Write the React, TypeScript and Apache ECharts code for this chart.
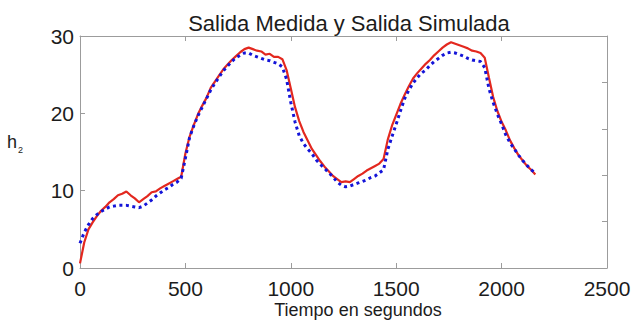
import React, { useEffect, useRef } from "react";
import * as echarts from "echarts";

// Sampling instants (s)
const tiempo: number[] = [
  0, 20, 40, 60, 80, 100, 120, 140, 160, 180, 200, 220, 240, 260, 280, 300, 320, 340, 360, 380,
  400, 420, 440, 460, 480, 500, 520, 540, 560, 580, 600, 620, 640, 660, 680, 700, 720, 740, 760, 780,
  800, 820, 840, 860, 880, 900, 920, 940, 960, 980, 1000, 1020, 1040, 1060, 1080, 1100, 1120, 1140, 1160, 1180,
  1200, 1220, 1240, 1260, 1280, 1300, 1320, 1340, 1360, 1380, 1400, 1420, 1440, 1460, 1480, 1500, 1520, 1540, 1560, 1580,
  1600, 1620, 1640, 1660, 1680, 1700, 1720, 1740, 1760, 1780, 1800, 1820, 1840, 1860, 1880, 1900, 1920, 1940, 1960, 1980,
  2000, 2020, 2040, 2060, 2080, 2100, 2120, 2140, 2160,
];

// Measured output h2
const salidaMedida: number[] = [
  0.6, 3.3, 5.0, 5.9, 6.7, 7.4, 7.9, 8.5, 8.9, 9.4, 9.6, 9.9, 9.4, 9.0, 8.5, 8.9, 9.3, 9.8, 9.9, 10.3,
  10.6, 10.9, 11.2, 11.5, 11.8, 14.8, 17.0, 18.5, 19.9, 21.0, 22.0, 23.3, 24.1, 24.9, 25.7, 26.3, 26.9, 27.4, 27.9, 28.3,
  28.5, 28.3, 28.1, 28.0, 27.6, 27.7, 27.3, 27.3, 27.0, 25.6, 23.2, 20.8, 19.0, 17.6, 16.5, 15.4, 14.6, 13.8, 13.1, 12.5,
  11.9, 11.5, 11.1, 11.2, 11.1, 11.5, 11.9, 12.2, 12.6, 12.9, 13.2, 13.5, 14.1, 16.6, 18.4, 19.8, 21.2, 22.4, 23.5, 24.5,
  25.2, 25.8, 26.4, 26.9, 27.5, 28.0, 28.5, 28.9, 29.2, 29.0, 28.8, 28.6, 28.4, 28.1, 28.0, 27.8, 27.2, 24.6, 22.1, 20.3,
  18.9, 17.8, 16.5, 15.5, 14.6, 13.9, 13.2, 12.7, 12.1,
];

// Simulated output h2
const salidaSimulada: number[] = [
  3.2, 4.6, 5.6, 6.4, 6.9, 7.3, 7.6, 7.9, 8.0, 8.1, 8.1, 8.1, 8.0, 7.9, 7.8, 8.0, 8.4, 8.8, 9.3, 9.7,
  10.1, 10.4, 10.8, 11.1, 11.6, 14.2, 16.9, 18.4, 19.7, 20.8, 21.9, 23.0, 23.9, 24.7, 25.5, 26.1, 26.7, 27.2, 27.5, 27.8,
  27.8, 27.5, 27.3, 27.1, 26.9, 26.8, 26.6, 26.4, 26.0, 24.4, 21.4, 18.9, 17.1, 16.1, 15.4, 14.8, 14.0, 13.4, 12.9, 12.3,
  11.8, 11.1, 10.7, 10.5, 10.6, 10.8, 11.0, 11.2, 11.4, 11.7, 11.9, 12.3, 12.7, 15.3, 17.0, 18.6, 20.3, 21.9, 23.0, 23.9,
  24.6, 25.2, 25.6, 26.2, 26.7, 27.1, 27.5, 27.8, 27.9, 27.8, 27.6, 27.4, 27.1, 26.9, 26.8, 26.7, 25.9, 23.2, 21.4, 19.9,
  18.6, 17.2, 16.2, 15.4, 14.6, 13.9, 13.3, 12.7, 12.3,
];

const FONT = "'Liberation Sans', Arial, Helvetica, sans-serif";
const TEXT = "#1c1c1c";
const FRAME = "#9c9c9c";

export default function App() {
  const ref = useRef<HTMLDivElement>(null);

  useEffect(() => {
    if (!ref.current) return;
    const chart = echarts.init(ref.current, null, { renderer: "svg" });

    const tick = { show: true, inside: true, length: 5, lineStyle: { color: FRAME, width: 1 } };
    const line = { show: true, onZero: false, lineStyle: { color: FRAME, width: 1 } };
    const plain = (v: number) => String(v);

    chart.setOption({
      animation: false,
      backgroundColor: "#ffffff",
      grid: { left: 80, right: 27, top: 36, bottom: 52, containLabel: false },
      xAxis: [
        {
          type: "value",
          position: "bottom",
          min: 0,
          max: 2500,
          interval: 500,
          axisLine: line,
          axisTick: tick,
          splitLine: { show: false },
          axisLabel: { fontSize: 21, color: TEXT, fontFamily: FONT, margin: 10, formatter: plain },
        },
        {
          type: "value",
          position: "top",
          min: 0,
          max: 2500,
          interval: 500,
          axisLine: line,
          axisTick: tick,
          splitLine: { show: false },
          axisLabel: { show: false },
        },
      ],
      yAxis: [
        {
          type: "value",
          position: "left",
          min: 0,
          max: 30,
          interval: 10,
          axisLine: line,
          axisTick: tick,
          splitLine: { show: false },
          axisLabel: { fontSize: 21, color: TEXT, fontFamily: FONT, margin: 6, formatter: plain },
        },
        {
          type: "value",
          position: "right",
          min: 0,
          max: 5,
          interval: 1,
          axisLine: line,
          axisTick: tick,
          splitLine: { show: false },
          axisLabel: { show: false },
        },
      ],
      series: [
        {
          name: "Salida Medida",
          type: "line",
          xAxisIndex: 0,
          yAxisIndex: 0,
          data: tiempo.map((t, i) => [t, salidaMedida[i]]),
          showSymbol: false,
          lineStyle: { color: "#e3281f", width: 2.2 },
          z: 2,
        },
        {
          name: "Salida Simulada",
          type: "line",
          xAxisIndex: 0,
          yAxisIndex: 0,
          data: tiempo.map((t, i) => [t, salidaSimulada[i]]),
          showSymbol: false,
          lineStyle: { color: "#1414d8", width: 3, type: [3, 3.5] },
          z: 3,
        },
      ],
      graphic: [
        {
          type: "text",
          x: 349,
          y: 23,
          style: {
            text: "Salida Medida y Salida Simulada",
            fontSize: 22,
            fontFamily: FONT,
            fill: TEXT,
            align: "center",
            verticalAlign: "middle",
          },
        },
        {
          type: "text",
          x: 358,
          y: 310,
          style: {
            text: "Tiempo en segundos",
            fontSize: 18,
            fontFamily: FONT,
            fill: TEXT,
            align: "center",
            verticalAlign: "middle",
          },
        },
        {
          type: "text",
          x: 7,
          y: 142,
          style: { text: "h", fontSize: 18, fontFamily: FONT, fill: TEXT, align: "left", verticalAlign: "middle" },
        },
        {
          type: "text",
          x: 18,
          y: 150,
          style: { text: "2", fontSize: 9, fontFamily: FONT, fill: TEXT, align: "left", verticalAlign: "middle" },
        },
      ],
    });

    return () => chart.dispose();
  }, []);

  return (
    <div
      ref={ref}
      style={{ position: "fixed", left: 0, top: 0, width: 634, height: 320, background: "#fff" }}
    />
  );
}
